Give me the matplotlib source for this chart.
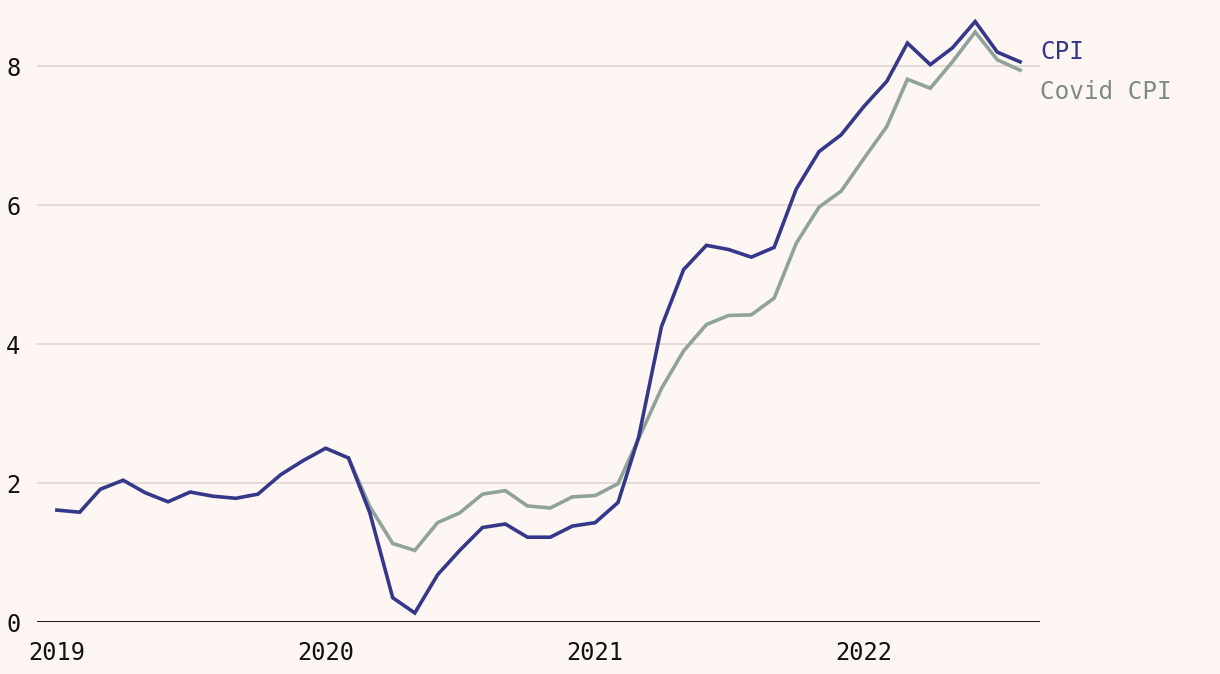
import matplotlib
matplotlib.use("Agg")
import matplotlib.pyplot as plt
import numpy as np
import pandas as pd

# ---- data ----
months = pd.date_range("2019-01-01", periods=44, freq="MS")
cpi = [1.61, 1.58, 1.91, 2.04, 1.86, 1.73, 1.87, 1.81, 1.78, 1.84, 2.12, 2.32,
       2.50, 2.36, 1.57, 0.35, 0.13, 0.68, 1.03, 1.36, 1.41, 1.22, 1.22, 1.38,
       1.43, 1.72, 2.66, 4.25, 5.07, 5.42, 5.36, 5.25, 5.39, 6.23, 6.77, 7.01,
       7.42, 7.78, 8.33, 8.02, 8.26, 8.64, 8.20, 8.06]
covid_cpi = [np.nan] * 13 + [
       2.36, 1.66, 1.13, 1.03, 1.43, 1.57, 1.84, 1.89, 1.67, 1.64, 1.80,
       1.82, 1.99, 2.64, 3.36, 3.90, 4.28, 4.41, 4.42, 4.66, 5.45, 5.97, 6.20,
       6.67, 7.13, 7.81, 7.68, 8.06, 8.49, 8.09, 7.94]
y_ticks = [0, 2, 4, 6, 8]
x_ticks = ["2019-01-01", "2020-01-01", "2021-01-01", "2022-01-01"]
x_tick_labels = ["2019", "2020", "2021", "2022"]
series_labels = ["CPI", "Covid CPI"]

# ---- style ----
bg = "#fdf6f3"
c_cpi = "#35388a"
c_cov = "#8fa39a"
c_cov_text = "#7d8b82"
grid_c = "#e0d6d3"
mono = ["DejaVu Sans Mono"]

fig = plt.figure(figsize=(12.2, 6.74), dpi=100, facecolor=bg)
ax = fig.add_axes([37 / 1220, 52 / 674, 1003 / 1220, 612 / 674])
ax.set_facecolor(bg)

ax.plot(months, covid_cpi, color=c_cov, lw=2.6, solid_joinstyle="miter", zorder=3)
ax.plot(months, cpi, color=c_cpi, lw=2.6, solid_joinstyle="miter", zorder=4)

ax.set_ylim(0, 8.806)
ax.set_xlim(pd.Timestamp("2018-12-05"), pd.Timestamp("2022-08-28"))

ax.set_yticks(y_ticks)
ax.set_yticklabels([str(t) for t in y_ticks], fontsize=17, family=mono)
ax.set_xticks([pd.Timestamp(t) for t in x_ticks])
ax.set_xticklabels(x_tick_labels, fontsize=17, family=mono)
ax.tick_params(axis="both", length=0, colors="#111111")
ax.tick_params(axis="y", pad=12)
ax.tick_params(axis="x", pad=14)

for t in y_ticks[1:]:
    ax.axhline(t, color=grid_c, lw=1.2, zorder=1)
ax.axhline(0, color="#000000", lw=2.0, zorder=2)

for s in ax.spines.values():
    s.set_visible(False)

# direct labels
fig.text(1040 / 1220, 1 - 52 / 674, series_labels[0], color=c_cpi, fontsize=17.5,
         family=mono, va="center", ha="left")
fig.text(1040 / 1220, 1 - 92 / 674, series_labels[1], color=c_cov_text, fontsize=17.5,
         family=mono, va="center", ha="left")

fig.savefig("out.png", dpi=100, facecolor=bg)
